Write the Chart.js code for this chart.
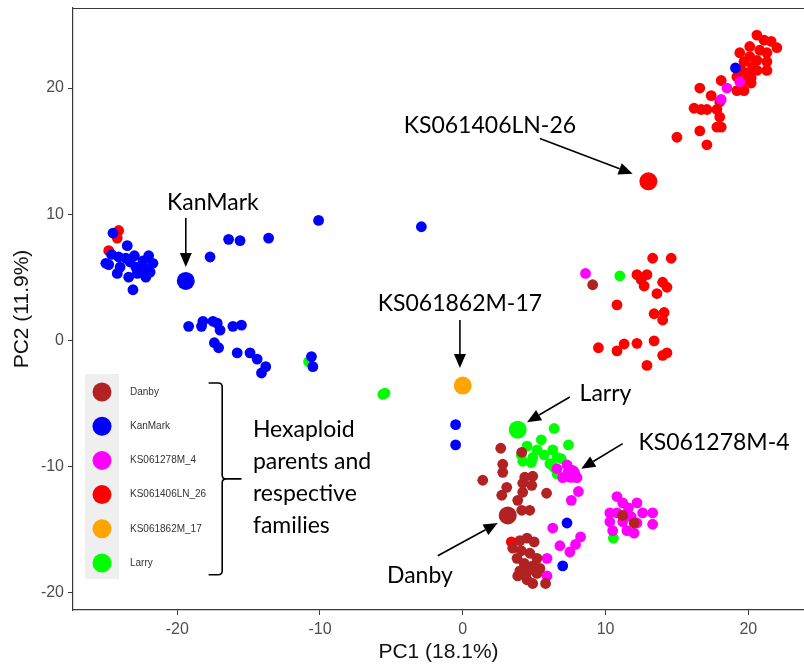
<!DOCTYPE html>
<html><head><meta charset="utf-8">
<script src="https://cdn.jsdelivr.net/npm/chart.js@4/dist/chart.umd.min.js"></script>
<style>html,body{margin:0;padding:0;background:#fff}canvas{display:block}</style>
</head><body><canvas id="c" width="804" height="665"></canvas>
<script>
const groupNames = ['Danby','KanMark','KS061278M_4','KS061406LN_26','KS061862M_17','Larry'];
const groupColors = ['#b22222','#0000ff','#ff00ff','#ff0000','#ffa500','#00ff00'];
const xTicks = [-20,-10,0,10,20];
const yTicks = [-20,-10,0,10,20];
const xTitle = 'PC1 (18.1%)';
const yTitle = 'PC2 (11.9%)';

const danbyPts = [[9.1,4.4],
 [2.66,-8.57],[4.13,-8.89],[2.8,-9.84],[2.8,-10.48],[1.4,-11.11],[4.9,-10.79],[4.34,-10.87],[4.2,-11.35],[4.83,-11.51],
 [3.08,-11.67],[2.73,-12.3],[4.2,-12.06],[5.87,-12.14],[3.85,-12.7],[4.13,-13.49],[4.69,-13.49],
 [4.0,-15.9],[4.5,-15.7],[5.0,-16.0],[3.5,-16.5],[4.1,-16.7],[4.7,-16.9],[5.2,-17.3],[3.8,-17.3],[4.3,-17.7],
 [4.9,-17.9],[5.4,-18.1],[4.0,-18.3],[4.5,-18.4],[5.2,-18.5],[3.85,-18.7],[4.9,-19.3],[5.8,-19.3],[4.5,-19.0],
 [11.2,-13.9],[12.0,-14.5]];
const kanmarkPts = [[-24.5,8.5],[-23.5,7.5],[-24.8,6.0],[-24.1,6.6],[-23.6,6.5],[-24.2,5.3],[-23.4,5.0],[-22.8,5.3],
 [-22.4,6.3],[-22.0,6.7],[-21.7,6.1],[-21.9,5.4],[-22.2,5.0],[-23.1,4.0],[-22.9,5.8],[-24.0,5.8],[-22.6,5.8],[-25.0,6.1],
 [-23.3,6.2],[-24.6,6.8],[-23.0,6.7],[-22.3,5.7],
 [-10.1,9.5],[-2.9,9.0],[-16.4,8.0],[-15.6,7.9],[-13.6,8.1],[-17.7,6.6],
 [-19.2,1.1],[-18.3,1.1],[-18.2,1.5],[-17.5,1.5],[-17.2,1.35],[-17.0,0.8],[-16.1,1.1],[-15.5,1.2],[-17.4,-0.2],[-17.1,-0.6],
 [-15.8,-1.0],[-14.9,-1.0],[-14.4,-1.5],[-13.8,-2.1],[-14.1,-2.6],[-10.6,-1.3],[-10.5,-2.1],
 [-0.5,-6.7],[-0.5,-8.3],[19.1,21.6],[7.3,-14.5],[7.0,-17.9]];
const ks1278Pts = [[18.5,20.0],[18.1,19.1],[19.4,20.5],[8.6,5.3],
 [6.6,-10.2],[7.3,-9.9],[7.0,-10.9],[8.0,-10.9],[8.1,-12.0],[7.6,-12.7],[6.3,-14.9],[8.25,-15.6],[6.8,-16.3],[7.9,-16.2],
 [7.5,-16.8],[5.9,-17.3],[5.9,-18.7],
 [10.8,-12.4],[11.2,-12.9],[12.2,-12.9],[10.3,-13.7],[10.8,-13.7],[12.6,-13.7],[13.3,-13.7],[10.3,-14.4],[11.2,-14.4],
 [12.2,-14.5],[13.3,-14.6],[10.5,-15.1],[11.5,-15.1],[12.0,-15.3],[11.6,-13.3],[11.8,-14.0]];
const ks1406Pts = [[20.6,24.2],[21.1,23.8],[21.6,23.7],[22.0,23.2],[20.1,23.3],[20.8,23.0],[21.3,22.8],[19.4,22.8],[20.1,22.5],
 [20.6,22.2],[21.3,22.1],[19.7,22.1],[20.3,21.7],[21.3,21.4],[20.6,21.4],[19.5,21.4],[19.9,21.2],[19.2,20.9],[20.2,20.8],
 [19.6,20.5],[20.2,20.4],[19.7,19.8],[19.2,19.8],[18.1,20.6],[16.6,20.0],[17.4,19.4],[18.0,18.9],[16.2,18.4],[16.7,18.3],
 [17.1,18.3],[17.8,18.3],[18.0,17.7],[17.8,16.9],[18.1,16.9],[16.6,16.6],[17.1,15.5],[15.0,16.1],
 [13.3,6.5],[14.6,6.5],[12.2,5.2],[12.9,5.2],[12.5,4.8],[12.7,4.3],[14.0,4.6],[14.3,4.2],[13.6,3.7],[10.8,2.8],[13.4,2.1],
 [14.1,2.2],[14.0,1.6],[9.5,-0.6],[10.8,-0.85],[11.3,-0.3],[12.2,-0.25],[13.4,-0.05],[14.0,-1.2],[14.3,-1.0],[12.9,-2.0],
 [-24.1,8.7],[-24.2,8.1],[-24.8,7.1],[3.4,-16.0]];
const ks1862Pts = [];
const larryPts = [[-10.8,-1.7],[-5.45,-4.2],[-5.6,-4.3],[11.0,5.1],
 [6.4,-7.0],[5.5,-7.9],[7.4,-8.3],[4.5,-8.4],[5.2,-8.7],[6.3,-8.7],[4.1,-9.1],[4.9,-9.3],[5.7,-9.1],[6.6,-9.3],[6.9,-9.4],
 [4.2,-9.6],[4.8,-9.7],[6.1,-9.8],[6.4,-10.1],[6.6,-10.6],[10.55,-15.7]];
// parents, in groupNames order
const parentPts = [[3.15,-13.9],[-19.4,4.7],[7.6,-10.6],[13.0,12.6],[0.0,-3.6],[3.85,-7.1]];

const annotations = [
  {text:'KanMark', x:-17.5, y:10.9, from:[-19.4,9.7], to:[-19.4,5.8]},
  {text:'KS061406LN-26', x:1.9, y:17.0, from:[5.4,16.0], to:[11.9,13.2]},
  {text:'KS061862M-17', x:-0.2, y:2.9, from:[-0.2,1.6], to:[-0.2,-2.2]},
  {text:'Larry', x:10.0, y:-4.2, from:[7.5,-4.5], to:[4.5,-6.5]},
  {text:'KS061278M-4', x:17.6, y:-8.1, from:[11.2,-8.2], to:[8.3,-10.2]},
  {text:'Danby', x:-3.0, y:-18.7, from:[-1.75,-17.1], to:[2.45,-14.5]}
];
const noteLines = ['Hexaploid','parents and','respective','families'];

const toXY = a => a.map(p => ({x:p[0], y:p[1]}));
const familySets = [
  {pts:kanmarkPts, g:1},{pts:danbyPts, g:0},{pts:ks1278Pts, g:2},{pts:larryPts, g:5},{pts:ks1406Pts, g:3},{pts:ks1862Pts, g:4}
];
const datasets = [{
  label:'parents', data:toXY(parentPts), backgroundColor:groupColors.slice(),
  pointRadius:9, pointHoverRadius:9, borderWidth:0
}].concat(familySets.map(f => ({
  label:groupNames[f.g], data:toXY(f.pts), backgroundColor:groupColors[f.g],
  pointRadius:5.4, pointHoverRadius:5.4, borderWidth:0
})));

const AX = '#3a3a3a';
const annot = {
  id:'annot',
  afterDraw(chart){
    const ctx = chart.ctx, xs = chart.scales.x, ys = chart.scales.y, a = chart.chartArea;
    const X = v => xs.getPixelForValue(v), Y = v => ys.getPixelForValue(v);
    ctx.save();
    // top border
    ctx.strokeStyle = AX; ctx.lineWidth = 1.2;
    ctx.beginPath(); ctx.moveTo(a.left, a.top+0.5); ctx.lineTo(a.right, a.top+0.5); ctx.stroke();
    // annotations
    ctx.fillStyle = '#000'; ctx.strokeStyle = '#000';
    ctx.font = '23px Lato'; ctx.textAlign = 'center'; ctx.textBaseline = 'middle';
    annotations.forEach(n => {
      ctx.fillText(n.text, X(n.x), Y(n.y));
      const x1 = X(n.from[0]), y1 = Y(n.from[1]), x2 = X(n.to[0]), y2 = Y(n.to[1]);
      const ang = Math.atan2(y2-y1, x2-x1), L = 14, W = 6;
      const bx = x2 - L*Math.cos(ang), by = y2 - L*Math.sin(ang);
      ctx.lineWidth = 1.6;
      ctx.beginPath(); ctx.moveTo(x1,y1); ctx.lineTo(bx,by); ctx.stroke();
      ctx.beginPath(); ctx.moveTo(x2,y2);
      ctx.lineTo(bx + W*Math.sin(ang), by - W*Math.cos(ang));
      ctx.lineTo(bx - W*Math.sin(ang), by + W*Math.cos(ang));
      ctx.closePath(); ctx.fill();
    });
    // note text
    ctx.textAlign = 'left';
    const nx = X(-14.7);
    noteLines.forEach((t,i) => ctx.fillText(t, nx, Y(-7.1) + i*32));
    // brace
    const bxv = X(-16.85), bxl = X(-17.8), bxr = X(-15.5);
    const yt = Y(-3.4), yb = Y(-18.6), ym = Y(-11.0);
    ctx.lineWidth = 1.6;
    ctx.beginPath();
    ctx.moveTo(bxl, yt); ctx.lineTo(bxv-4, yt); ctx.quadraticCurveTo(bxv, yt, bxv, yt+4);
    ctx.lineTo(bxv, ym-4); ctx.quadraticCurveTo(bxv, ym, bxv+4, ym); ctx.lineTo(bxr, ym);
    ctx.moveTo(bxv+4, ym); ctx.quadraticCurveTo(bxv, ym, bxv, ym+4);
    ctx.lineTo(bxv, yb-4); ctx.quadraticCurveTo(bxv, yb, bxv-4, yb); ctx.lineTo(bxl, yb);
    ctx.stroke();
    // legend
    const lx = a.left + 12, ly = a.bottom - 236;
    ctx.fillStyle = '#efefef';
    ctx.fillRect(lx, ly, 34, 205);
    ctx.font = '10px "Liberation Sans"'; ctx.textBaseline = 'middle';
    groupNames.forEach((g,i) => {
      const cy = ly + 18 + i*34.2;
      ctx.fillStyle = groupColors[i];
      ctx.beginPath(); ctx.arc(lx+17, cy, 9.5, 0, Math.PI*2); ctx.fill();
      ctx.fillStyle = '#333';
      ctx.fillText(g, lx + 45, cy);
    });
    ctx.restore();
  }
};

new Chart(document.getElementById('c'), {
  type:'scatter',
  data:{datasets},
  options:{
    responsive:false, animation:false, devicePixelRatio:1,
    layout:{autoPadding:false, padding:{top:8, right:0, left:0, bottom:0}},
    plugins:{legend:{display:false}, tooltip:{enabled:false}},
    scales:{
      x:{
        type:'linear', min:-27.3, max:23.9,
        afterBuildTicks: s => { s.ticks = xTicks.map(v => ({value:v})); },
        afterFit: s => { s.height = 55; s.paddingLeft = 0; s.paddingRight = 0; },
        grid:{drawOnChartArea:false, drawTicks:true, tickLength:5, color:AX},
        border:{display:true, color:AX, width:1.2},
        ticks:{font:{family:'Liberation Sans', size:16}, color:'#4d4d4d', padding:5, maxRotation:0, autoSkip:false},
        title:{display:true, text:xTitle, font:{family:'Liberation Sans', size:21}, color:'#111', padding:{top:0,bottom:0}}
      },
      y:{
        type:'linear', min:-21.4, max:26.35,
        afterBuildTicks: s => { s.ticks = yTicks.map(v => ({value:v})); },
        afterFit: s => { s.width = 73; s.paddingTop = 0; s.paddingBottom = 0; },
        grid:{drawOnChartArea:false, drawTicks:true, tickLength:5, color:AX},
        border:{display:true, color:AX, width:1.2},
        ticks:{font:{family:'Liberation Sans', size:16}, color:'#4d4d4d', padding:4, autoSkip:false},
        title:{display:true, text:yTitle, font:{family:'Liberation Sans', size:21}, color:'#111', padding:{top:10,bottom:4}}
      }
    }
  },
  plugins:[annot]
});
</script>
</body></html>
